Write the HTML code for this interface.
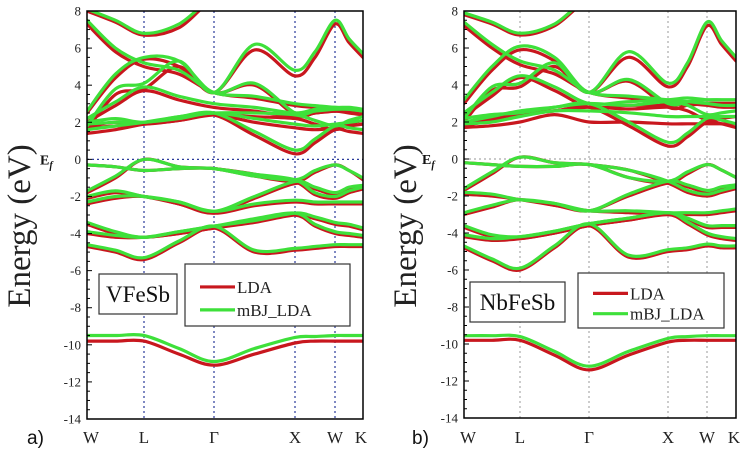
<!DOCTYPE html>
<html><head><meta charset="utf-8"><style>
body{margin:0;background:#fff;}
svg{display:block;font-family:"Liberation Serif",serif;}
</style></head><body>
<svg id="fig" width="746" height="458" viewBox="0 0 746 458"></svg>
<script>
// k-path sample points: W, mid, L, mid, Γ, mid, X, mid, W, mid, K (index units; integers map to symmetry points by pairs)
const kLabels = ["W","L","Γ","X","W","K"];
const yTicks = [8,6,4,2,0,-2,-4,-6,-8,-10,-12,-14];
const yTickLabels = ["8","6","4","2","0","-2","-4","-6","-8","-10","-12","-14"];

// Panel a) VFeSb — LDA
const aLDA_core = [-9.8,-9.8,-9.8,-10.5,-11.1,-10.5,-9.9,-9.8,-9.8,-9.8,-9.8];
const aLDA_v1 = [-4.7,-5.0,-5.4,-4.5,-3.7,-5.0,-4.9,-4.8,-4.7,-4.7,-4.7];
const aLDA_v2 = [-4.0,-4.2,-4.2,-4.0,-3.7,-3.3,-3.0,-3.6,-4.0,-4.1,-4.2];
const aLDA_v3 = [-3.5,-4.0,-4.2,-4.0,-3.7,-3.4,-3.0,-3.2,-3.5,-3.6,-3.8];
const aLDA_v4 = [-2.4,-2.1,-2.0,-2.4,-2.9,-2.5,-2.3,-2.4,-2.4,-2.4,-2.4];
const aLDA_v5 = [-2.1,-1.8,-2.0,-2.4,-2.9,-2.1,-1.3,-1.6,-1.9,-1.6,-1.5];
const aLDA_v6 = [-1.8,-1.0,0.0,-0.4,-0.5,-0.8,-1.2,-1.9,-2.1,-1.8,-1.6];
const aLDA_v7 = [-0.3,-0.4,-0.6,-0.5,-0.5,-0.9,-1.2,-0.7,-0.3,-0.6,-1.1];
const aLDA_c1 = [1.4,1.6,1.9,2.2,2.4,1.3,0.3,0.9,1.6,1.5,1.4];
const aLDA_c2 = [1.7,1.8,1.9,2.1,2.4,2.0,1.7,1.6,1.7,1.8,1.9];
const aLDA_c3 = [1.8,2.0,1.9,2.1,2.4,2.3,2.2,1.9,1.6,1.9,2.1];
const aLDA_c4 = [2.0,2.9,3.7,3.2,2.8,2.6,2.3,2.5,2.6,2.5,2.4];
const aLDA_c5 = [2.5,4.4,5.4,5.0,3.6,4.0,2.4,2.5,2.6,2.6,2.5];
const aLDA_c6 = [1.6,3.5,3.8,5.0,3.6,5.9,4.5,5.5,7.3,6.3,5.5];
const aLDA_c7 = [7.3,5.8,5.0,4.6,3.6,3.3,2.9,2.8,2.7,2.7,2.6];
const aLDA_c8 = [8.0,7.4,6.7,7.1,8.6,8.8,8.9,8.9,8.9,8.9,8.9];
// Panel a) VFeSb — mBJ_LDA
const aMBJ_core = [-9.5,-9.5,-9.5,-10.2,-10.9,-10.2,-9.6,-9.55,-9.5,-9.5,-9.5];
const aMBJ_v1 = [-4.6,-4.9,-5.3,-4.4,-3.6,-4.9,-4.8,-4.7,-4.6,-4.6,-4.6];
const aMBJ_v2 = [-3.9,-4.1,-4.2,-3.9,-3.6,-3.2,-2.9,-3.5,-3.9,-4.0,-4.1];
const aMBJ_v3 = [-3.4,-3.9,-4.2,-3.9,-3.6,-3.3,-2.9,-3.1,-3.4,-3.5,-3.7];
const aMBJ_v4 = [-2.3,-2.0,-2.0,-2.3,-2.8,-2.4,-2.2,-2.3,-2.3,-2.3,-2.3];
const aMBJ_v5 = [-2.0,-1.7,-2.0,-2.3,-2.8,-2.0,-1.2,-1.5,-1.8,-1.5,-1.4];
const aMBJ_v6 = [-1.7,-0.9,0.0,-0.4,-0.5,-0.8,-1.1,-1.8,-2.0,-1.7,-1.5];
const aMBJ_v7 = [-0.3,-0.4,-0.6,-0.5,-0.5,-0.9,-1.1,-0.6,-0.3,-0.6,-1.0];
const aMBJ_c1 = [1.6,1.8,2.0,2.3,2.5,1.5,0.5,1.1,1.8,1.7,1.6];
const aMBJ_c2 = [1.9,2.0,2.0,2.2,2.5,2.2,1.9,1.8,1.9,2.0,2.1];
const aMBJ_c3 = [2.0,2.2,2.0,2.3,2.5,2.5,2.4,2.1,1.8,2.1,2.3];
const aMBJ_c4 = [2.2,3.1,3.9,3.4,3.0,2.8,2.5,2.7,2.8,2.7,2.6];
const aMBJ_c5 = [2.6,4.6,5.5,5.3,3.6,4.1,2.5,2.6,2.7,2.7,2.6];
const aMBJ_c6 = [1.8,3.8,4.1,5.3,3.6,6.2,4.8,5.8,7.5,6.5,5.7];
const aMBJ_c7 = [7.5,6.0,5.2,4.8,3.6,3.4,3.0,2.9,2.8,2.8,2.7];
const aMBJ_c8 = [8.1,7.5,6.8,7.3,8.7,8.9,9.0,9.0,9.0,9.0,9.0];

// Panel b) NbFeSb — LDA
const bLDA_core = [-9.8,-9.8,-9.8,-10.6,-11.4,-10.6,-9.9,-9.8,-9.8,-9.8,-9.8];
const bLDA_v1 = [-4.8,-5.5,-6.0,-4.8,-3.6,-5.3,-5.0,-4.9,-4.7,-4.8,-4.8];
const bLDA_v2 = [-4.2,-4.4,-4.3,-4.0,-3.6,-3.3,-3.0,-3.5,-4.1,-4.3,-4.4];
const bLDA_v3 = [-3.7,-4.2,-4.3,-4.0,-3.6,-3.3,-3.0,-3.3,-3.7,-3.7,-3.7];
const bLDA_v4 = [-3.0,-2.6,-2.2,-2.5,-2.8,-2.9,-3.0,-3.0,-3.0,-2.9,-2.8];
const bLDA_v5 = [-1.9,-2.0,-2.2,-2.5,-2.8,-2.0,-1.3,-1.5,-1.8,-1.6,-1.5];
const bLDA_v6 = [-1.7,-0.8,0.1,-0.2,-0.3,-0.6,-1.3,-1.8,-2.0,-1.8,-1.6];
const bLDA_v7 = [-0.2,-0.3,-0.4,-0.4,-0.3,-1.0,-1.3,-0.8,-0.3,-0.6,-1.0];
const bLDA_c1 = [1.8,2.1,2.5,2.6,2.8,1.8,0.7,1.2,2.0,1.9,1.7];
const bLDA_c2 = [1.7,1.8,2.0,2.4,2.0,2.0,1.9,1.9,1.9,1.9,1.9];
const bLDA_c3 = [2.0,2.2,2.4,2.6,2.8,2.7,2.8,2.6,2.1,2.2,2.3];
const bLDA_c4 = [2.3,3.4,4.4,3.7,2.8,2.9,2.9,3.0,3.0,3.0,3.0];
const bLDA_c5 = [3.0,4.8,5.9,5.3,3.6,4.2,2.8,2.9,3.0,3.0,3.0];
const bLDA_c6 = [2.0,3.7,3.9,5.0,3.6,5.5,3.9,5.0,7.2,6.2,5.3];
const bLDA_c7 = [7.2,6.0,5.1,4.6,3.6,3.3,3.1,3.0,2.9,2.8,2.8];
const bLDA_c8 = [7.8,7.3,6.7,7.2,8.6,8.8,8.9,8.9,8.9,8.9,8.9];
// Panel b) NbFeSb — mBJ_LDA
const bMBJ_core = [-9.55,-9.55,-9.6,-10.4,-11.2,-10.4,-9.7,-9.6,-9.55,-9.55,-9.55];
const bMBJ_v1 = [-4.7,-5.4,-5.9,-4.7,-3.5,-5.2,-4.9,-4.8,-4.6,-4.7,-4.7];
const bMBJ_v2 = [-4.1,-4.3,-4.2,-3.9,-3.5,-3.2,-2.9,-3.4,-4.0,-4.2,-4.3];
const bMBJ_v3 = [-3.6,-4.1,-4.2,-3.9,-3.5,-3.2,-2.9,-3.2,-3.6,-3.6,-3.6];
const bMBJ_v4 = [-2.9,-2.5,-2.2,-2.4,-2.8,-2.8,-2.9,-2.9,-2.9,-2.8,-2.7];
const bMBJ_v5 = [-1.8,-1.9,-2.2,-2.4,-2.8,-1.9,-1.2,-1.4,-1.7,-1.5,-1.4];
const bMBJ_v6 = [-1.6,-0.7,0.1,-0.2,-0.3,-0.6,-1.2,-1.7,-1.9,-1.7,-1.5];
const bMBJ_v7 = [-0.2,-0.3,-0.4,-0.4,-0.3,-1.0,-1.2,-0.7,-0.3,-0.6,-1.0];
const bMBJ_c1 = [2.0,2.3,2.6,2.8,3.0,2.0,0.9,1.4,2.2,2.1,1.9];
const bMBJ_c2 = [1.9,2.0,2.3,2.6,2.6,2.5,2.3,2.3,2.3,2.3,2.3];
const bMBJ_c3 = [2.2,2.4,2.5,2.8,3.0,2.9,3.1,2.9,2.4,2.5,2.6];
const bMBJ_c4 = [2.5,3.6,4.5,3.9,3.0,3.1,3.2,3.3,3.2,3.2,3.2];
const bMBJ_c5 = [3.2,5.0,6.1,5.5,3.6,4.3,3.0,3.1,3.2,3.2,3.2];
const bMBJ_c6 = [2.2,3.9,4.1,5.2,3.6,5.8,4.1,5.2,7.4,6.4,5.5];
const bMBJ_c7 = [7.4,6.2,5.3,4.8,3.6,3.4,3.2,3.1,3.0,2.9,2.9];
const bMBJ_c8 = [7.9,7.4,6.8,7.3,8.7,8.9,9.0,9.0,9.0,9.0,9.0];

const NS = "http://www.w3.org/2000/svg";
const svg = document.getElementById("fig");
function mk(tag, attrs, parent){const e=document.createElementNS(NS,tag);for(const k in attrs)e.setAttribute(k,attrs[k]);(parent||svg).appendChild(e);return e;}

function drawPanel(p){
  const g = mk("g",{});
  
  
  const yS = v => p.top + (8 - v) * (p.bottom - p.top) / 22;
  const kS = i => { const s = Math.floor(i/2), f = (i/2) - s; const a = p.kx[Math.min(s,5)], b = p.kx[Math.min(s+1,5)]; return a + (b-a)*f; };
  const clipId = p.id + "-clip";
  const defs = mk("defs",{},g);
  const cp = mk("clipPath",{id:clipId},defs);
  mk("rect",{x:p.left,y:p.top,width:p.right-p.left,height:p.bottom-p.top},cp);
  // symmetry lines
  for(let i=1;i<5;i++){
    const l = mk("line",{x1:p.kx[i],x2:p.kx[i],y1:p.top,y2:p.bottom,stroke:p.gridColor,"stroke-width":1.2,"stroke-dasharray":"2,3"},g);
    
    
  }
  const z = mk("line",{x1:p.left,x2:p.right,y1:yS(0),y2:yS(0),stroke:p.gridColor,"stroke-width":1.2,"stroke-dasharray":"2,3"},g);
  
  
  // bands
  const bg = mk("g",{"clip-path":"url(#"+clipId+")",fill:"none","stroke-linecap":"round","stroke-linejoin":"round"},g);
  function path(vals){
    const pts = vals.map((v,i)=>[kS(i), yS(v)]);
    let d = "M"+pts[0][0].toFixed(1)+","+pts[0][1].toFixed(1);
    for(let i=0;i<pts.length-1;i++){
      const p0=pts[Math.max(i-1,0)],p1=pts[i],p2=pts[i+1],p3=pts[Math.min(i+2,pts.length-1)];
      const c1=[p1[0]+(p2[0]-p0[0])/6,p1[1]+(p2[1]-p0[1])/6];
      const c2=[p2[0]-(p3[0]-p1[0])/6,p2[1]-(p3[1]-p1[1])/6];
      d+=" C"+c1.map(n=>n.toFixed(1)).join(",")+" "+c2.map(n=>n.toFixed(1)).join(",")+" "+p2[0].toFixed(1)+","+p2[1].toFixed(1);
    }
    return d;
  }
  p.lda.forEach((b,i)=>{const e=mk("path",{d:path(b),stroke:"#c8171e","stroke-width":3.2},bg);
    
    });
  p.mbj.forEach((b,i)=>{const e=mk("path",{d:path(b),stroke:"#3ee03a","stroke-width":3.2},bg);
    
    });
  // frame
  const fr = mk("rect",{x:p.left,y:p.top,width:p.right-p.left,height:p.bottom-p.top,fill:"none",stroke:"#000","stroke-width":1.5},g);
  
  
  // y ticks
  for(let v=-14; v<=8; v+=0.5){
    const major = Number.isInteger(v/2);
    mk("line",{x1:p.left,x2:p.left+(major?5:3),y1:yS(v),y2:yS(v),stroke:"#000","stroke-width":1},g);
  }
  yTicks.forEach((v,i)=>{const t=mk("text",{x:p.left-6,y:yS(v)+4.5,"text-anchor":"end","font-size":13,fill:"#222"},g);t.textContent=yTickLabels[i];
    
    });
  kLabels.forEach((s,i)=>{const t=mk("text",{x:p.kx[i]+(i===0?4:(i===5?-2:0)),y:443,"text-anchor":"middle","font-size":17,fill:"#222"},g);t.textContent=s;
    
    });
  const ef = mk("text",{x:p.efx,y:yS(0)+5,"font-size":14,"font-weight":"bold",fill:"#111"},g);
  ef.innerHTML = 'E<tspan font-size="10" dy="4" font-style="italic">f</tspan>';
  
  
  const yt = mk("text",{x:0,y:0,transform:"translate("+p.titleX+",226) rotate(-90)","text-anchor":"middle","font-size":33,fill:"#222"},g);
  yt.textContent = "Energy (eV)";
  
  
  const pl = mk("text",{x:p.letterX,y:444,"font-size":19,fill:"#111","font-family":"Liberation Sans, sans-serif"},g);
  pl.textContent = p.letter;
  
  
  // compound label
  const cb = mk("rect",{x:p.cbox[0],y:p.cbox[1],width:p.cbox[2],height:p.cbox[3],fill:"#fff",stroke:"#333","stroke-width":1.2},g);
  
  
  const ct = mk("text",{x:p.cbox[0]+p.cbox[2]/2,y:p.cbox[1]+p.cbox[3]/2+8,"text-anchor":"middle","font-size":23,fill:"#111"},g);
  ct.textContent = p.name;
  
  
  // legend
  const L = p.lbox;
  const lg = mk("g",{},g);
  
  
  mk("rect",{x:L[0],y:L[1],width:L[2],height:L[3],fill:"#fff",stroke:"#333","stroke-width":1.2},lg);
  [["LDA","#c8171e"],["mBJ_LDA","#3ee03a"]].forEach((e,i)=>{
    const yy = L[1] + L[3]*(i===0?0.37:0.74);
    const ln = mk("line",{x1:L[0]+15,x2:L[0]+50,y1:yy,y2:yy,stroke:e[1],"stroke-width":3.2},lg);
    
    
    const t = mk("text",{x:L[0]+52,y:yy+6,"font-size":17,fill:"#222"},lg);
    t.textContent = e[0];
    
    
  });
}

drawPanel({id:"vfesb",left:87,right:363,top:11,bottom:419,kx:[87,144,214,295,335,363],gridColor:"#2a3a9a",
  efx:40,titleX:30,letter:"a)",letterX:27,name:"VFeSb",cbox:[99,274,78,40],lbox:[185,264,165,62],
  lda:[aLDA_core,aLDA_v1,aLDA_v2,aLDA_v3,aLDA_v4,aLDA_v5,aLDA_v6,aLDA_v7,aLDA_c1,aLDA_c2,aLDA_c3,aLDA_c4,aLDA_c5,aLDA_c6,aLDA_c7,aLDA_c8],
  mbj:[aMBJ_core,aMBJ_v1,aMBJ_v2,aMBJ_v3,aMBJ_v4,aMBJ_v5,aMBJ_v6,aMBJ_v7,aMBJ_c1,aMBJ_c2,aMBJ_c3,aMBJ_c4,aMBJ_c5,aMBJ_c6,aMBJ_c7,aMBJ_c8]});
drawPanel({id:"nbfesb",left:464,right:736,top:11,bottom:418,kx:[464,520,589,668,707,736],gridColor:"#aaaaaa",
  efx:422,titleX:416,letter:"b)",letterX:412,name:"NbFeSb",cbox:[470,282,95,40],lbox:[578,273,146,55],
  lda:[bLDA_core,bLDA_v1,bLDA_v2,bLDA_v3,bLDA_v4,bLDA_v5,bLDA_v6,bLDA_v7,bLDA_c1,bLDA_c2,bLDA_c3,bLDA_c4,bLDA_c5,bLDA_c6,bLDA_c7,bLDA_c8],
  mbj:[bMBJ_core,bMBJ_v1,bMBJ_v2,bMBJ_v3,bMBJ_v4,bMBJ_v5,bMBJ_v6,bMBJ_v7,bMBJ_c1,bMBJ_c2,bMBJ_c3,bMBJ_c4,bMBJ_c5,bMBJ_c6,bMBJ_c7,bMBJ_c8]});
</script>
</body></html>
